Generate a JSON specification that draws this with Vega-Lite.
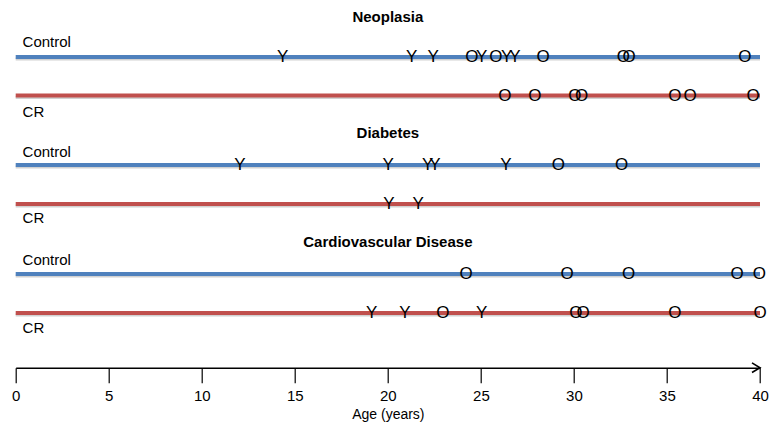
{
  "$schema": "https://vega.github.io/schema/vega-lite/v6.json",
  "width": 744.3,
  "height": 367.7,
  "autosize": "none",
  "padding": {"left": 15.7, "top": 0, "right": 15, "bottom": 67.3},
  "background": "white",
  "config": {"view": {"stroke": null}, "font": "Liberation Sans"},
  "datasets": {
    "tracks": [
      {"track": "Neoplasia-Control", "group": "Control", "level": 31.07},
      {"track": "Neoplasia-CR", "group": "CR", "level": 27.22},
      {"track": "Diabetes-Control", "group": "Control", "level": 20.27},
      {"track": "Diabetes-CR", "group": "CR", "level": 16.37},
      {"track": "Cardio-Control", "group": "Control", "level": 9.37},
      {"track": "Cardio-CR", "group": "CR", "level": 5.47}
    ],
    "events": [
      {"track": "Neoplasia-Control", "age": 14.35, "sym": "Y"},
      {"track": "Neoplasia-Control", "age": 21.28, "sym": "Y"},
      {"track": "Neoplasia-Control", "age": 22.44, "sym": "Y"},
      {"track": "Neoplasia-Control", "age": 24.52, "sym": "O"},
      {"track": "Neoplasia-Control", "age": 25.04, "sym": "Y"},
      {"track": "Neoplasia-Control", "age": 25.81, "sym": "O"},
      {"track": "Neoplasia-Control", "age": 26.38, "sym": "Y"},
      {"track": "Neoplasia-Control", "age": 26.83, "sym": "Y"},
      {"track": "Neoplasia-Control", "age": 28.35, "sym": "O"},
      {"track": "Neoplasia-Control", "age": 32.65, "sym": "O"},
      {"track": "Neoplasia-Control", "age": 32.97, "sym": "O"},
      {"track": "Neoplasia-Control", "age": 39.19, "sym": "O"},
      {"track": "Neoplasia-CR", "age": 26.29, "sym": "O"},
      {"track": "Neoplasia-CR", "age": 27.9, "sym": "O"},
      {"track": "Neoplasia-CR", "age": 30.05, "sym": "O"},
      {"track": "Neoplasia-CR", "age": 30.41, "sym": "O"},
      {"track": "Neoplasia-CR", "age": 35.43, "sym": "O"},
      {"track": "Neoplasia-CR", "age": 36.24, "sym": "O"},
      {"track": "Neoplasia-CR", "age": 39.63, "sym": "O"},
      {"track": "Diabetes-Control", "age": 12.05, "sym": "Y"},
      {"track": "Diabetes-Control", "age": 20.02, "sym": "Y"},
      {"track": "Diabetes-Control", "age": 22.14, "sym": "Y"},
      {"track": "Diabetes-Control", "age": 22.53, "sym": "Y"},
      {"track": "Diabetes-Control", "age": 26.35, "sym": "Y"},
      {"track": "Diabetes-Control", "age": 29.16, "sym": "O"},
      {"track": "Diabetes-Control", "age": 32.56, "sym": "O"},
      {"track": "Diabetes-CR", "age": 20.06, "sym": "Y"},
      {"track": "Diabetes-CR", "age": 21.63, "sym": "Y"},
      {"track": "Cardio-Control", "age": 24.2, "sym": "O"},
      {"track": "Cardio-Control", "age": 29.64, "sym": "O"},
      {"track": "Cardio-Control", "age": 32.94, "sym": "O"},
      {"track": "Cardio-Control", "age": 38.77, "sym": "O"},
      {"track": "Cardio-Control", "age": 39.96, "sym": "O"},
      {"track": "Cardio-CR", "age": 19.13, "sym": "Y"},
      {"track": "Cardio-CR", "age": 20.92, "sym": "Y"},
      {"track": "Cardio-CR", "age": 22.95, "sym": "O"},
      {"track": "Cardio-CR", "age": 25.04, "sym": "Y"},
      {"track": "Cardio-CR", "age": 30.1, "sym": "O"},
      {"track": "Cardio-CR", "age": 30.5, "sym": "O"},
      {"track": "Cardio-CR", "age": 35.43, "sym": "O"},
      {"track": "Cardio-CR", "age": 40.0, "sym": "O"}
    ],
    "labels": [
      {"label": "Control", "level": 32.62},
      {"label": "CR", "level": 25.57},
      {"label": "Control", "level": 21.62},
      {"label": "CR", "level": 14.97},
      {"label": "Control", "level": 10.77},
      {"label": "CR", "level": 4.0}
    ],
    "titles": [
      {"title": "Neoplasia", "level": 35.07, "age": 20},
      {"title": "Diabetes", "level": 23.47, "age": 20},
      {"title": "Cardiovascular Disease", "level": 12.57, "age": 20}
    ],
    "arrow": [
      {"age": 40, "level": 0}
    ]
  },
  "layer": [
    {
      "data": {"name": "tracks"},
      "mark": {"type": "rule", "strokeWidth": 3, "color": "#9a9a9a", "opacity": 0.45, "yOffset": 2},
      "encoding": {
        "x": {
          "datum": 0,
          "type": "quantitative",
          "scale": {"domain": [0, 40], "nice": false, "zero": false},
          "axis": {
            "title": "Age (years)",
            "values": [0, 5, 10, 15, 20, 25, 30, 35, 40],
            "grid": false,
            "tickSize": 15,
            "tickColor": "black",
            "tickWidth": 1.2,
            "domainColor": "black",
            "domainWidth": 1.5,
            "labelFontSize": 15,
            "labelColor": "black",
            "labelPadding": 6,
            "labelFlush": false,
            "titleFontSize": 14,
            "titleFontWeight": "normal",
            "titleColor": "black",
            "titlePadding": 4
          }
        },
        "x2": {"datum": 40},
        "y": {
          "field": "level",
          "type": "quantitative",
          "scale": {"domain": [0, 36.77], "nice": false, "zero": false},
          "axis": null
        }
      }
    },
    {
      "data": {"name": "tracks"},
      "mark": {"type": "rule", "strokeWidth": 4},
      "encoding": {
        "x": {"datum": 0, "type": "quantitative"},
        "x2": {"datum": 40},
        "y": {"field": "level", "type": "quantitative", "axis": null},
        "color": {
          "field": "group",
          "type": "nominal",
          "scale": {"domain": ["Control", "CR"], "range": ["#4f81bd", "#c0504d"]},
          "legend": null
        }
      }
    },
    {
      "data": {"name": "events"},
      "transform": [
        {"lookup": "track", "from": {"data": {"name": "tracks"}, "key": "track", "fields": ["level"]}}
      ],
      "mark": {"type": "text", "fontSize": 17, "color": "black", "align": "center", "baseline": "middle", "font": "Liberation Sans"},
      "encoding": {
        "x": {"field": "age", "type": "quantitative"},
        "y": {"field": "level", "type": "quantitative", "axis": null},
        "text": {"field": "sym"}
      }
    },
    {
      "data": {"name": "labels"},
      "mark": {"type": "text", "fontSize": 15, "color": "black", "align": "left", "baseline": "middle", "font": "Liberation Sans"},
      "encoding": {
        "x": {"datum": 0.37, "type": "quantitative"},
        "y": {"field": "level", "type": "quantitative", "axis": null},
        "text": {"field": "label"}
      }
    },
    {
      "data": {"name": "titles"},
      "mark": {"type": "text", "fontSize": 15, "fontWeight": "bold", "color": "black", "align": "center", "baseline": "middle", "font": "Liberation Sans"},
      "encoding": {
        "x": {"field": "age", "type": "quantitative"},
        "y": {"field": "level", "type": "quantitative", "axis": null},
        "text": {"field": "title"}
      }
    },
    {
      "data": {"name": "arrow"},
      "mark": {"type": "point", "shape": "M-1,-0.6L0,0L-1,0.6", "filled": false, "stroke": "black", "strokeWidth": 1.6, "size": 256, "opacity": 1},
      "encoding": {
        "x": {"field": "age", "type": "quantitative"},
        "y": {"field": "level", "type": "quantitative", "axis": null}
      }
    }
  ]
}
